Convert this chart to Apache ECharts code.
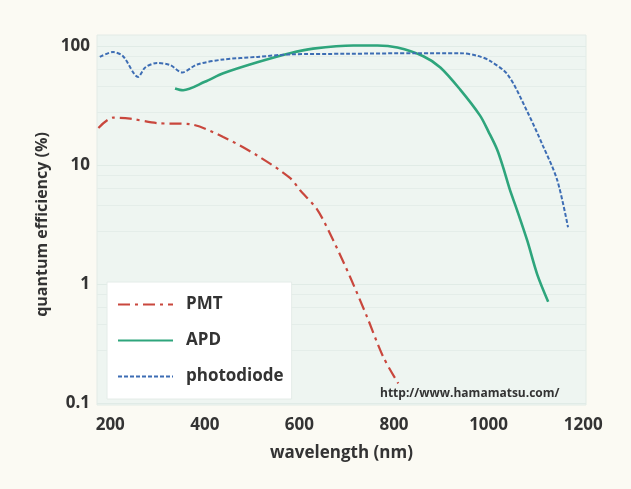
<!DOCTYPE html>
<html>
<head>
<meta charset="utf-8">
<script src="https://cdn.jsdelivr.net/npm/echarts@6.0.0/dist/echarts.min.js"></script>
<style>
html,body{margin:0;padding:0;background:#fbfaf3;}
#c{width:631px;height:489px;}
</style>
</head>
<body>
<div id="c"></div>
<script>
var seriesNames = ['PMT', 'APD', 'photodiode'];
var xTicks = [200, 400, 600, 800, 1000, 1200];
var yTicks = [0.1, 1, 10, 100];

var pmtWl = [175, 206, 242, 299, 369, 439, 511, 580, 602, 638, 671, 707, 743, 777, 809];
var pmtQe = [20.5, 25, 24.5, 22.5, 22, 17.2, 12, 7.8, 6.1, 4.2, 2.35, 1.15, 0.53, 0.245, 0.146];

var apdWl = [337, 354, 400, 439, 511, 580, 629, 714, 765, 807, 862, 898, 940, 982, 1000, 1018, 1031, 1045, 1060, 1082, 1103, 1126];
var apdQe = [44, 42.5, 50, 59, 73, 87, 95, 101, 101, 97, 82, 66, 43, 26, 19, 13.5, 9.5, 6.2, 4.2, 2.3, 1.2, 0.71];

var pdWl = [178, 206, 227, 259, 274, 299, 327, 352, 384, 439, 511, 580, 700, 850, 940, 975, 1003, 1041, 1082, 1115, 1145, 1168];
var pdQe = [81, 89, 82, 55, 66, 72, 69, 60, 70, 77, 81, 85, 86, 87, 87, 83, 75, 57, 28, 14.5, 7.5, 3];

function zip(a, b) { return a.map(function (v, i) { return [v, b[i]]; }); }

var chart = echarts.init(document.getElementById('c'), null, {renderer: 'canvas'});
var font = '"Open Sans", "DejaVu Sans", sans-serif';
chart.setOption({
  backgroundColor: '#fbfaf3',
  animation: false,
  grid: {left: 97, right: 45, top: 46, bottom: 86},
  graphic: [
    {type: 'rect', z: -10, silent: true,
     shape: {x: 97, y: 35, width: 489, height: 370},
     style: {fill: '#eef5f1', stroke: '#e2ebe6', lineWidth: 1}},
    {type: 'text', z: 100, left: 380, top: 388,
     style: {text: 'http://www.hamamatsu.com/', fill: '#333', font: 'bold 12px ' + font}}
  ],
  legend: {
    data: seriesNames,
    orient: 'vertical',
    left: 107, top: 282,
    itemWidth: 55, itemHeight: 14, itemGap: 19,
    padding: [14, 8, 14, 10],
    backgroundColor: '#ffffff',
    borderColor: '#e4ece8', borderWidth: 1,
    itemStyle: {opacity: 0},
    textStyle: {color: '#333', fontFamily: font, fontWeight: 'bold', fontSize: 17, padding: [0, 0, 0, 8]}
  },
  xAxis: {
    type: 'value', min: 172, max: 1206,
    name: 'wavelength (nm)', nameLocation: 'middle', nameGap: 42,
    nameTextStyle: {color: '#333', fontFamily: font, fontWeight: 'bold', fontSize: 17},
    axisLine: {show: false}, axisTick: {show: false}, splitLine: {show: false},
    axisLabel: {color: '#333', fontFamily: font, fontWeight: 'bold', fontSize: 17, margin: 14,
      customValues: xTicks, formatter: function (v) { return String(v); }}
  },
  yAxis: {
    type: 'log', logBase: 10, min: 0.1, max: 100,
    name: 'quantum efficiency (%)', nameLocation: 'middle', nameGap: 42,
    nameTextStyle: {color: '#333', fontFamily: font, fontWeight: 'bold', fontSize: 16},
    axisLine: {show: false}, axisTick: {show: false},
    splitLine: {show: true, lineStyle: {color: '#e0ebe6', width: 1}},
    minorTick: {show: false, splitNumber: 5},
    minorSplitLine: {show: true, lineStyle: {color: '#e4ede9', width: 1}},
    axisLabel: {color: '#333', fontFamily: font, fontWeight: 'bold', fontSize: 17, margin: 7,
      formatter: function (v) { return String(+(+v).toPrecision(3)); }}
  },
  series: [
    {name: 'PMT', type: 'line', data: zip(pmtWl, pmtQe), symbol: 'none', smooth: 0.3, clip: false,
     lineStyle: {color: '#c9473d', width: 2.2, type: [12, 5, 3, 5]}, itemStyle: {color: '#c9473d'}, z: 3},
    {name: 'APD', type: 'line', data: zip(apdWl, apdQe), symbol: 'none', smooth: 0.3, clip: false,
     lineStyle: {color: '#2ea57c', width: 2.6}, itemStyle: {color: '#2ea57c'}, z: 2},
    {name: 'photodiode', type: 'line', data: zip(pdWl, pdQe), symbol: 'none', smooth: 0.3, clip: false,
     lineStyle: {color: '#3d6db4', width: 2, type: [4, 2]}, itemStyle: {color: '#3d6db4'}, z: 4}
  ]
});
</script>
</body>
</html>
